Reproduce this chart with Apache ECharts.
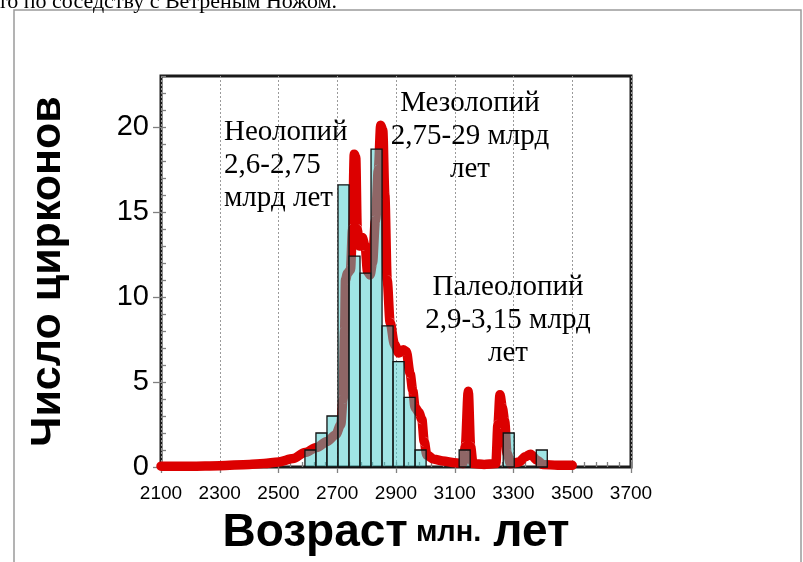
<!DOCTYPE html>
<html>
<head>
<meta charset="utf-8">
<script src="https://cdn.jsdelivr.net/npm/echarts@6/dist/echarts.min.js"></script>
<style>
html,body{margin:0;padding:0;background:#fff;}
#c{width:803px;height:562px;}
</style>
</head>
<body>
<div id="c"></div>
<script>
// ---- data ----
var xTicks = [2100, 2300, 2500, 2700, 2900, 3100, 3300, 3500, 3700];
var yTicks = [0, 5, 10, 15, 20];
var binWidth = 37.5;
var binLeft  = [2590, 2627.5, 2665, 2702.5, 2740, 2777.5, 2815, 2852.5, 2890, 2927.5, 2965, 3115, 3265, 3377.5];
var binCount = [1, 2, 3, 16.6, 12.4, 11.4, 18.7, 8.3, 6.2, 4.1, 1, 1, 2, 1];
var kdeAge = [2100,2200,2300,2400,2450,2500,2550,2590,2630,2665,2695,2712,2720,2725,2728,2735,2745,2752,2758,2763,2768,2775,2785,2795,2803,2812,2820,2830,2840,2848,2855,2862,2870,2880,2895,2910,2925,2935,2948,2957,2965,2978,2988,2996,3005,3030,3060,3100,3128,3136,3146,3154,3162,3200,3240,3247,3254,3262,3270,3278,3290,3320,3340,3358,3380,3400,3450,3500];
var kdeValue = [0.05,0.05,0.08,0.15,0.2,0.3,0.5,0.85,1.15,1.5,1.9,2.5,4,8,11,11.4,11.6,14,18.4,18.2,14,13,13.5,13,11.5,11.3,12,14.5,17.5,20.1,19.8,16,11,8.5,7.2,6.7,6.9,6.8,5.5,4.5,3.5,3.2,2.8,1.5,0.7,0.45,0.35,0.25,0.2,1.2,4.45,1.2,0.2,0.15,0.2,2.5,4.25,3.5,2.7,0.8,0.2,0.3,0.6,0.75,0.4,0.15,0.1,0.1];
var annNeo  = ['Неолопий', '2,6-2,75', 'млрд лет'];
var annMezo = ['Мезолопий', '2,75-29 млрд', 'лет'];
var annPaleo = ['Палеолопий', '2,9-3,15 млрд', 'лет'];
var topText = 'то по соседству с Ветреным Ножом.';

// ---- build ----
var kdeData = kdeAge.map(function (a, i) { return [a, kdeValue[i]]; });
var barData = binLeft.map(function (l, i) { return [l, l + binWidth, binCount[i]]; });

var chart = echarts.init(document.getElementById('c'), null, {renderer: 'canvas'});
var SANS = '"Liberation Sans", Arial, sans-serif';
var SERIF = '"Liberation Serif", "Times New Roman", serif';

var option = {
  animation: false,
  backgroundColor: '#fff',
  grid: {left: 161, top: 76, width: 470, height: 391, show: true, borderColor: '#1a1a1a', borderWidth: 3, backgroundColor: 'transparent'},
  xAxis: [{
    type: 'value', min: 2100, max: 3700, interval: 200, position: 'bottom',
    axisLine: {show: false},
    axisTick: {show: true, inside: false, length: 6, customValues: xTicks, lineStyle: {color: '#808080', width: 1.3}},
    axisLabel: {show: true, fontFamily: SANS, fontSize: 19, color: '#000', margin: 17, customValues: xTicks,
      formatter: function (v) { return String(v); }},
    splitLine: {show: true, lineStyle: {color: '#9a9a9a', type: [2, 2], width: 1}},
    name: '{big|Возраст}{sm|млн.}{big|лет}',
    nameLocation: 'middle', nameGap: 43,
    nameTextStyle: {
      rich: {
        big: {fontFamily: SANS, fontSize: 46, fontWeight: 'bold', color: '#000'},
        sm: {fontFamily: SANS, fontSize: 29, fontWeight: 'bold', color: '#000', padding: [0, 12, 0, 8]}
      }
    }
  }, {
    type: 'value', min: 2100, max: 3700, interval: 40, position: 'bottom',
    axisLine: {show: false},
    axisTick: {show: true, inside: true, length: 5, lineStyle: {color: '#808080', width: 1.3}},
    axisLabel: {show: false}, splitLine: {show: false}
  }],
  yAxis: [{
    type: 'value', min: 0, max: 23, interval: 5, position: 'left',
    axisLine: {show: false},
    axisTick: {show: true, inside: false, length: 8, customValues: yTicks, lineStyle: {color: '#808080', width: 1.3}},
    axisLabel: {show: true, fontFamily: SANS, fontSize: 29, color: '#000', margin: 12, customValues: yTicks},
    splitLine: {show: false},
    name: 'Число цирконов',
    nameLocation: 'middle', nameGap: 91, nameRotate: 90,
    nameTextStyle: {fontFamily: SANS, fontSize: 43, fontWeight: 'bold', color: '#000'}
  }, {
    type: 'value', min: 0, max: 23, interval: 1, position: 'left',
    axisLine: {show: false},
    axisTick: {show: true, inside: true, length: 5, lineStyle: {color: '#808080', width: 1.3}},
    axisLabel: {show: false}, splitLine: {show: false}
  }],
  series: [{
    type: 'line', name: 'kde', data: kdeData, xAxisIndex: 0, yAxisIndex: 0,
    showSymbol: false, symbol: 'none', smooth: 0.3, smoothMonotone: 'x',
    lineStyle: {color: '#dc0000', width: 9.5, cap: 'round', join: 'round'},
    z: 2, clip: false
  }, {
    type: 'custom', name: 'hist', data: barData, xAxisIndex: 0, yAxisIndex: 0,
    encode: {x: [0, 1], y: 2},
    renderItem: function (params, api) {
      var p0 = api.coord([api.value(0), api.value(2)]);
      var p1 = api.coord([api.value(1), 0]);
      return {
        type: 'rect',
        shape: {x: p0[0], y: p0[1], width: p1[0] - p0[0], height: p1[1] - p0[1]},
        style: {fill: 'rgba(66,204,204,0.5)', stroke: '#111', lineWidth: 1.3}
      };
    },
    z: 3
  }]
};
chart.setOption(option);

function annot(lines, x, y, align) {
  return {
    type: 'text', x: x, y: y, z: 100,
    style: {text: lines.join('\n'), fill: '#000', font: '29px ' + SERIF, lineHeight: 33, align: align, verticalAlign: 'top'}
  };
}
chart.setOption({
  graphic: [
    {type: 'rect', z: -1, shape: {x: 14, y: 10, width: 787, height: 600}, style: {fill: 'none', stroke: '#9a9a9a', lineWidth: 1.5}},
    {type: 'text', x: -2, y: -9, style: {text: topText, fill: '#000', font: '22px ' + SERIF, verticalAlign: 'top'}},
    annot(annNeo, 224, 116, 'left'),
    annot(annMezo, 470, 87, 'center'),
    annot(annPaleo, 508, 271, 'center')
  ]
});
</script>
</body>
</html>
